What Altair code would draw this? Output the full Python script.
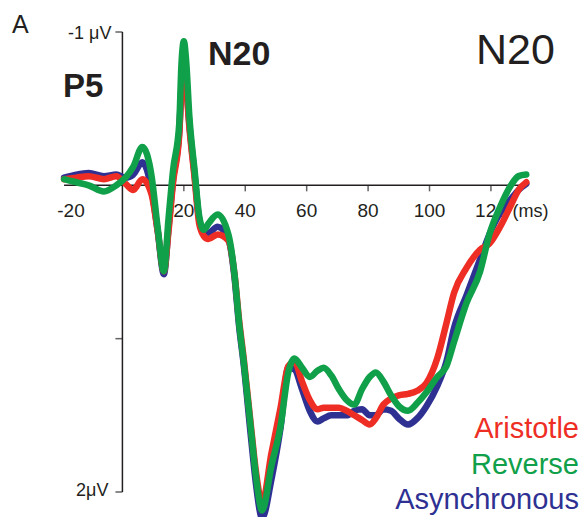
import altair as alt
import pandas as pd

# ---- data (ms, µV; negative up) ----
times = [-19, -15, -11, -6, -2, 1, 3.5, 6.5, 9.5, 11.5, 13.5, 15, 16.5, 18.5, 19.2, 20, 20.8, 21.8,
         23.5, 25, 26.5, 28, 31, 34.5, 36.5, 38, 39.5, 42, 43.5, 45.5, 48.5, 51.5, 54, 56, 58.5,
         61, 63.5, 65.5, 68, 70.5, 73, 75.5, 78, 80.5, 82.5, 85, 87.5, 90, 93, 96, 99, 102.5,
         105.5, 108, 112, 116.5, 119.5, 123, 126.5, 129, 131.5]

aristotle = [-0.04, -0.05, -0.06, -0.04, -0.06, -0.01, 0.03, -0.04, 0.06, 0.30, 0.56, 0.30, -0.02,
             -0.33, -0.62, -0.76, -0.64, -0.38, -0.05, 0.25, 0.33, 0.35, 0.32, 0.36, 0.58, 0.88,
             1.13, 1.60, 1.87, 2.07, 1.75, 1.45, 1.18, 1.15, 1.28, 1.40, 1.46, 1.45, 1.45, 1.45,
             1.47, 1.50, 1.53, 1.56, 1.52, 1.43, 1.39, 1.37, 1.36, 1.34, 1.29, 1.13, 0.90, 0.70,
             0.54, 0.42, 0.38, 0.27, 0.13, 0.03, -0.02]

reverse = [-0.04, -0.02, 0.0, 0.04, 0.0, -0.05, -0.12, -0.25, -0.06, 0.28, 0.56, 0.22, -0.10,
           -0.40, -0.78, -0.94, -0.80, -0.45, -0.10, 0.20, 0.29, 0.25, 0.19, 0.32, 0.58, 0.90,
           1.15, 1.62, 1.90, 2.12, 1.83, 1.57, 1.22, 1.13, 1.19, 1.25, 1.21, 1.19, 1.24, 1.33,
           1.40, 1.43, 1.33, 1.25, 1.22, 1.28, 1.37, 1.44, 1.47, 1.42, 1.35, 1.25, 1.18, 1.02,
           0.77, 0.56, 0.32, 0.14, 0.0, -0.06, -0.07]

asynchronous = [-0.05, -0.07, -0.08, -0.06, -0.07, -0.05, -0.07, -0.15, 0.03, 0.30, 0.58, 0.28,
                -0.04, -0.35, -0.64, -0.78, -0.66, -0.40, -0.07, 0.22, 0.30, 0.31, 0.27, 0.35,
                0.60, 0.92, 1.17, 1.67, 1.95, 2.17, 1.92, 1.58, 1.19, 1.20, 1.33, 1.47, 1.54,
                1.52, 1.50, 1.50, 1.50, 1.47, 1.46, 1.50, 1.50, 1.46, 1.47, 1.52, 1.56, 1.52,
                1.44, 1.31, 1.15, 0.93, 0.72, 0.48, 0.32, 0.18, 0.09, 0.03, -0.01]

x_tick_values = [20, 40, 60, 80, 100, 120]
y_tick_values = [-1, 1, 2]
x_axis_extent = [-19, 132]

RED = "#ee2e24"
GREEN = "#10a04a"
BLUE = "#2e3192"
INK = "#231f20"
FONT = "Liberation Sans"

xs = alt.Scale(domain=[-20, 135], nice=False, zero=False)
ys = alt.Scale(domain=[-1, 2], reverse=True, nice=False, zero=False)


def X(field):
    return alt.X(field, type="quantitative", scale=xs, axis=None)


def Y(field):
    return alt.Y(field, type="quantitative", scale=ys, axis=None)


def curve(vals, color):
    df = pd.DataFrame({"t": times, "v": vals})
    return alt.Chart(df).mark_line(
        color=color, strokeWidth=6.5, interpolate="monotone",
        strokeCap="round", strokeJoin="round"
    ).encode(x=X("t"), y=Y("v"))


# axes drawn as rules/ticks in data space
xaxis = alt.Chart(pd.DataFrame({"t": [x_axis_extent[0]], "t2": [x_axis_extent[1]], "v": [0]})).mark_rule(
    color=INK, strokeWidth=1.5).encode(x=X("t"), x2="t2:Q", y=Y("v"))
yaxis = alt.Chart(pd.DataFrame({"t": [0], "v": [-1], "v2": [2]})).mark_rule(
    color=INK, strokeWidth=1.5).encode(x=X("t"), y=Y("v"), y2="v2:Q")

xticks = alt.Chart(pd.DataFrame({"t": x_tick_values, "v": [0] * len(x_tick_values)})).mark_tick(
    orient="vertical", size=6, thickness=1.5, yOffset=3, color=INK).encode(x=X("t"), y=Y("v"))
yticks = alt.Chart(pd.DataFrame({"t": [0] * len(y_tick_values), "v": y_tick_values})).mark_tick(
    orient="horizontal", size=7, thickness=1.5, xOffset=-3.5, color=INK).encode(x=X("t"), y=Y("v"))

xlabels = alt.Chart(pd.DataFrame({"t": x_tick_values, "v": [0] * len(x_tick_values),
                                  "lab": [str(v) for v in x_tick_values]})).mark_text(
    font=FONT, fontSize=19, color=INK, align="center", baseline="alphabetic", dy=32
).encode(x=X("t"), y=Y("v"), text="lab:N")

neg20 = alt.Chart(pd.DataFrame({"t": [-20], "v": [0], "lab": ["-20"]})).mark_text(
    font=FONT, fontSize=19, color=INK, align="center", baseline="alphabetic", dy=32, dx=10
).encode(x=X("t"), y=Y("v"), text="lab:N")

ms_label = alt.Chart(pd.DataFrame({"t": [127], "v": [0], "lab": ["(ms)"]})).mark_text(
    font=FONT, fontSize=18, color=INK, align="left", baseline="alphabetic", dy=32
).encode(x=X("t"), y=Y("v"), text="lab:N")

top_uv = alt.Chart(pd.DataFrame({"t": [0], "v": [-1], "lab": ["-1 μV"]})).mark_text(
    font=FONT, fontSize=18, color=INK, align="right", baseline="middle", dx=-11, dy=2
).encode(x=X("t"), y=Y("v"), text="lab:N")

bot_uv = alt.Chart(pd.DataFrame({"t": [0], "v": [2], "lab": ["2μV"]})).mark_text(
    font=FONT, fontSize=18, color=INK, align="right", baseline="middle", dx=-14, dy=-1
).encode(x=X("t"), y=Y("v"), text="lab:N")


def note(text, px, py, size, color=INK, weight="normal", align="left"):
    return alt.Chart(pd.DataFrame({"lab": [text]})).mark_text(
        font=FONT, fontSize=size, color=color, fontWeight=weight, align=align, baseline="alphabetic"
    ).encode(x=alt.value(px), y=alt.value(py), text="lab:N")


notes = [
    note("A", -49, 1, 25),
    note("P5", 2, 65, 33, weight="bold"),
    note("N20", 147, 33, 34, weight="bold"),
    note("N20", 415, 32, 43),
    note("Aristotle", 518, 406, 29, color=RED, align="right"),
    note("Reverse", 518, 442, 29, color=GREEN, align="right"),
    note("Asynchronous", 518, 477, 29, color=BLUE, align="right"),
]

chart = alt.layer(
    xaxis, yaxis, xticks, yticks, xlabels, neg20, ms_label, top_uv, bot_uv,
    curve(asynchronous, BLUE), curve(aristotle, RED), curve(reverse, GREEN),
    *notes
).properties(
    width=476, height=460,
    padding={"left": 53, "top": 24, "right": 43, "bottom": 25},
    autosize=alt.AutoSizeParams(type="none"),
    background="white",
).configure_view(stroke=None)

chart.save("out.html", embed_options={"renderer": "svg", "actions": False})
